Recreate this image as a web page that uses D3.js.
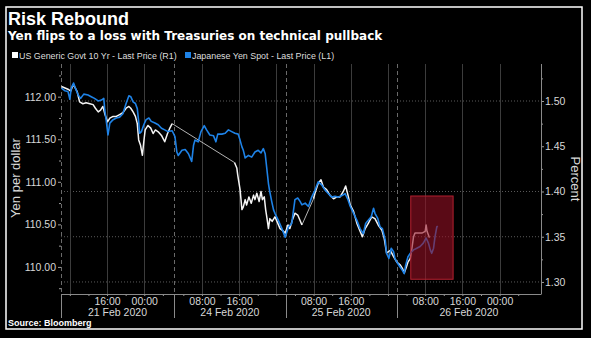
<!DOCTYPE html>
<html><head><meta charset="utf-8">
<script src="https://cdn.jsdelivr.net/npm/d3@7"></script>
<style>html,body{margin:0;padding:0;background:#000;}svg{display:block;}</style>
</head><body>
<svg id="chart" width="591" height="338"></svg>
<script>
// ---- data (time index in trading hours from chart start) ----
const jpyTime = [0.1,0.8,1.5,1.9,2.2,2.7,3.1,3.7,4.2,4.9,
5.8,6.5,7.2,8.0,8.7,9.2,9.4,9.7,10.1,10.5,
11.2,11.9,12.6,13.3,14.0,14.6,15.0,15.5,16.0,16.4,
16.7,16.9,17.3,17.8,18.3,18.9,19.4,20.2,20.9,21.6,
22.3,23.0,23.9,24.5,24.9,25.2,26.0,26.7,27.4,28.1,
28.5,28.8,29.5,30.1,30.8,31.3,32.0,32.8,33.3,33.7,
34.6,35.3,36.0,36.7,37.4,38.1,38.5,38.9,39.2,39.6,
40.3,41.0,41.7,42.4,43.0,43.5,43.9,44.2,44.6,44.9,
45.3,45.7,46.0,46.7,47.5,48.2,48.9,49.6,50.3,50.9,
51.4,51.8,52.5,53.2,53.9,54.6,55.3,56.1,56.8,57.5,
58.2,58.9,59.6,60.4,61.1,61.7,62.2,62.9,63.6,64.3,
65.0,65.5,66.1,66.7,67.2,67.5,68.1,68.6,69.1,69.7,
70.0,70.5,71.0,71.5,71.8,72.4,72.9,73.4,73.8,74.1,
74.6,75.1,75.8,76.5,77.2,77.9,78.5,79.0,79.4,79.7,
80.1,80.4,80.8,81.0];
const jpyValue = [112.10,112.07,112.06,111.97,112.10,112.16,112.10,112.02,111.98,112.03,
112.02,112.00,111.98,111.95,111.96,111.98,111.85,111.73,111.55,111.69,
111.73,111.75,111.76,111.80,111.92,112.01,112.00,111.94,111.92,111.86,
111.71,111.57,111.59,111.67,111.73,111.75,111.71,111.69,111.67,111.63,
111.61,111.59,111.60,111.53,111.35,111.31,111.37,111.38,111.33,111.24,
111.43,111.49,111.47,111.59,111.66,111.61,111.55,111.54,111.47,111.56,
111.56,111.57,111.61,111.59,111.57,111.56,111.49,111.41,111.37,111.28,
111.31,111.29,111.35,111.37,111.34,111.39,111.33,111.18,110.98,110.88,
110.77,110.67,110.63,110.55,110.45,110.35,110.47,110.51,110.79,110.81,
110.77,110.73,110.75,110.71,110.82,110.90,111.00,110.96,110.90,110.86,
110.82,110.83,110.82,110.84,110.86,110.79,110.71,110.63,110.55,110.45,
110.39,110.51,110.55,110.59,110.69,110.63,110.57,110.47,110.45,110.32,
110.16,110.10,110.22,110.18,110.10,110.04,110.00,109.96,109.92,110.02,
110.12,110.16,110.20,110.22,110.24,110.28,110.34,110.28,110.20,110.16,
110.22,110.35,110.47,110.48];

const usTime = [0.1,1.5,2.1,2.6,2.9,3.5,4.0,4.7,5.4,6.2,
6.9,7.4,8.0,8.5,9.0,9.4,10.0,10.5,11.2,11.9,
12.6,13.3,14.0,14.6,15.0,15.5,16.0,16.4,16.7,17.1,
17.5,17.8,18.1,18.7,19.3,19.8,20.3,20.9,21.6,22.3,
22.9,23.4,23.9,
37.3,37.8,38.0,38.5,38.9,39.2,39.6,
39.9,40.4,40.9,41.4,41.7,42.1,42.6,43.0,43.3,43.7,
44.0,44.3,44.6,44.9,45.4,46.0,46.6,47.1,47.6,48.2,
48.8,49.2,49.7,50.3,50.9,51.4,51.8,
54.3,54.6,55.3,
55.9,56.4,57.1,57.8,58.6,59.3,60.0,60.7,61.2,61.7,
62.2,62.9,63.6,64.3,64.8,65.4,66.1,66.8,67.5,68.2,
69.0,69.5,70.0,70.8,71.5,72.2,72.9,73.4,73.8,74.3,
74.6,75.1,75.5,75.8,76.1,76.8,77.6,78.3,78.5,78.7,
79.0,79.2];
const usValue = [1.516,1.513,1.511,1.518,1.516,1.510,1.499,1.497,1.498,1.497,
1.496,1.492,1.488,1.490,1.494,1.486,1.477,1.481,1.483,1.483,
1.485,1.487,1.492,1.494,1.492,1.488,1.483,1.475,1.457,1.451,
1.440,1.455,1.468,1.473,1.470,1.464,1.468,1.466,1.462,1.455,
1.464,1.470,1.475,
1.432,1.426,1.418,1.402,1.380,1.383,1.391,
1.385,1.394,1.387,1.396,1.391,1.398,1.389,1.400,1.391,1.394,
1.380,1.370,1.359,1.370,1.367,1.372,1.365,1.359,1.357,1.354,
1.363,1.359,1.368,1.376,1.374,1.368,1.363,
1.392,1.398,1.409,
1.413,1.405,1.402,1.396,1.392,1.394,1.394,1.400,1.406,1.396,
1.385,1.378,1.365,1.356,1.350,1.359,1.365,1.372,1.370,1.363,
1.357,1.348,1.332,1.335,1.328,1.322,1.319,1.315,1.310,1.317,
1.322,1.326,1.339,1.350,1.354,1.354,1.354,1.356,1.363,1.356,
1.352,1.349];

const timeTicks = [9.9,17.9,30.3,38.3,46.3,54.3,62.3,70.3,78.3,86.3,94.3];
const timeLabels = ["16:00","00:00","08:00","16:00","","08:00","16:00","","08:00","16:00","00:00"];
const minorTimeTicks = [1.9,5.9,13.9,21.9,26.3,34.3,42.3,50.3,58.3,66.3,74.3,82.3,90.3,98.3];
const extraGrid = [1.9];
const dayBreaks = [0,24.3,48.3,72.2];
const dayLabels = ["21 Feb 2020","24 Feb 2020","25 Feb 2020","26 Feb 2020"];
const leftTicks = [110.0,110.5,111.0,111.5,112.0];
const rightTicks = [1.30,1.35,1.40,1.45,1.50];
const rightGrid = [1.30,1.35,1.40,1.50];
const boxTime = [75.2,84.3];
const boxValue = [1.303,1.395];

const title = "Risk Rebound";
const subtitle = "Yen flips to a loss with Treasuries on technical pullback";
const seriesNames = ["US Generic Govt 10 Yr - Last Price (R1)","Japanese Yen Spot - Last Price (L1)"];
const leftTitle = "Yen per dollar";
const rightTitle = "Percent";
const source = "Source: Bloomberg";

// ---- layout ----
const L = 61, R = 541, T = 64, B = 294;
const FONT = "'Liberation Sans', Arial, sans-serif";
const WIDE = "'DejaVu Sans', Verdana, sans-serif";
const svg = d3.select("#chart");
svg.append("rect").attr("width",591).attr("height",338).attr("fill","#000");

const x = d3.scaleLinear().domain([0,103.2]).range([L,R]);
const yL = d3.scaleLinear().domain([109.682,112.384]).range([B,T]);
const yR = d3.scaleLinear().domain([1.2867,1.5409]).range([B,T]);

// border
svg.append("rect").attr("x",6).attr("y",7).attr("width",576).attr("height",322)
  .attr("fill","none").attr("stroke","#fff").attr("stroke-width",1.5);

// titles
svg.append("text").attr("x",8).attr("y",25).text(title)
  .attr("fill","#fff").attr("font-family",FONT).attr("font-weight","bold").attr("font-size",18);
svg.append("text").attr("x",8).attr("y",40).text(subtitle)
  .attr("fill","#fff").attr("font-family",WIDE).attr("font-weight","bold").attr("font-size",12);

// legend
const legColors = ["#ffffff","#1e82e6"];
const legX = [12,185];
seriesNames.forEach((n,i)=>{
  svg.append("rect").attr("x",legX[i]).attr("y",52).attr("width",6).attr("height",6).attr("fill",legColors[i]);
  svg.append("text").attr("x",legX[i]+7).attr("y",58.5).text(n)
    .attr("fill","#ddd").attr("font-family",FONT).attr("font-size",8.9);
});

// grid
const g = svg.append("g");
g.selectAll(".hg").data(rightGrid).join("line")
  .attr("x1",L).attr("x2",R).attr("y1",d=>yR(d)).attr("y2",d=>yR(d))
  .attr("stroke","#5a5a5a").attr("stroke-dasharray","1,2");
g.selectAll(".vg").data(timeTicks.concat(extraGrid)).join("line")
  .attr("x1",d=>Math.round(x(d))+0.5).attr("x2",d=>Math.round(x(d))+0.5).attr("y1",T).attr("y2",B)
  .attr("stroke","#3c3c3c");
g.selectAll(".db").data(dayBreaks).join("line")
  .attr("x1",d=>Math.round(x(d))+0.5).attr("x2",d=>Math.round(x(d))+0.5).attr("y1",T).attr("y2",B)
  .attr("stroke","#6a6a6a").attr("stroke-dasharray","4,3");
g.selectAll(".dbl").data(dayBreaks).join("line")
  .attr("x1",d=>Math.round(x(d))+0.5).attr("x2",d=>Math.round(x(d))+0.5).attr("y1",B).attr("y2",318)
  .attr("stroke","#8a8a8a");

// series
const jpy = jpyTime.map((t,i)=>[t,jpyValue[i]]);
const us = usTime.map((t,i)=>[t,usValue[i]]);
const GAP = 2;
const usSegs = [[]];
const gaps = [];
us.forEach((p,i)=>{
  if(i>0 && p[0]-us[i-1][0] > GAP){ gaps.push([us[i-1],p]); usSegs.push([]); }
  usSegs[usSegs.length-1].push(p);
});
const lineR = d3.line().x(d=>x(d[0])).y(d=>yR(d[1]));
const lineL = d3.line().x(d=>x(d[0])).y(d=>yL(d[1]));
svg.selectAll(".gap").data(gaps).join("path").attr("d",lineR)
  .attr("fill","none").attr("stroke","#b4b4b4").attr("stroke-width",1);
svg.selectAll(".us").data(usSegs).join("path").attr("d",lineR)
  .attr("fill","none").attr("stroke","#f4f4f4").attr("stroke-width",1.5).attr("stroke-linejoin","round");
svg.append("path").datum(jpy).attr("d",lineL)
  .attr("fill","none").attr("stroke","#1e82e6").attr("stroke-width",1.6).attr("stroke-linejoin","round");

// highlight box
svg.append("rect").attr("x",x(boxTime[0])).attr("y",yR(boxValue[1]))
  .attr("width",x(boxTime[1])-x(boxTime[0])).attr("height",yR(boxValue[0])-yR(boxValue[1]))
  .attr("fill","rgba(150,16,36,0.6)").attr("stroke","#b3202f").attr("stroke-width",1);

// axes
const axL = svg.append("g").attr("transform",`translate(${L},0)`)
  .call(d3.axisLeft(yL).tickValues(leftTicks).tickFormat(d3.format(".2f")).tickSize(3).tickPadding(2));
const axLm = svg.append("g").attr("transform",`translate(${L},0)`)
  .call(d3.axisLeft(yL).tickValues([109.75,110.25,110.75,111.25,111.75,112.25]).tickFormat("").tickSize(2));
const axR = svg.append("g").attr("transform",`translate(${R},0)`)
  .call(d3.axisRight(yR).tickValues(rightTicks).tickFormat(d3.format(".2f")).tickSize(3).tickPadding(1));
const axRm = svg.append("g").attr("transform",`translate(${R},0)`)
  .call(d3.axisRight(yR).tickValues([1.325,1.375,1.425,1.475,1.525]).tickFormat("").tickSize(2));
const axBm = svg.append("g").attr("transform",`translate(0,${B})`)
  .call(d3.axisBottom(x).tickValues(minorTimeTicks.concat(timeTicks)).tickFormat("").tickSize(2));
[axL,axLm,axR,axRm,axBm].forEach(a=>{
  a.select(".domain").remove();
  a.selectAll("line").attr("stroke","#9a9a9a");
  a.selectAll("text").attr("fill","#d8d8d8").attr("font-family",FONT).attr("font-size",10.5);
});
svg.append("line").attr("x1",R+0.5).attr("x2",R+0.5).attr("y1",T).attr("y2",B).attr("stroke","#8a8a8a");
svg.append("line").attr("x1",L).attr("x2",R+0.5).attr("y1",B+0.5).attr("y2",B+0.5).attr("stroke","#8a8a8a");

// x labels
const axB = svg.append("g").attr("transform",`translate(0,${B})`)
  .call(d3.axisBottom(x).tickValues(timeTicks).tickFormat((d,i)=>timeLabels[i]).tickSize(0).tickPadding(4));
axB.select(".domain").remove();
axB.selectAll("text").attr("fill","#d8d8d8").attr("font-family",FONT).attr("font-size",10.5);

const dayEnds = dayBreaks.slice(1).concat([x.domain()[1]]);
svg.selectAll(".dl").data(dayLabels).join("text")
  .attr("x",(d,i)=>x((dayBreaks[i]+dayEnds[i])/2)).attr("y",316).attr("text-anchor","middle")
  .text(d=>d).attr("fill","#d8d8d8").attr("font-family",FONT).attr("font-size",10.5);

// axis titles
svg.append("text").attr("transform",`translate(20,178) rotate(-90)`).attr("text-anchor","middle")
  .text(leftTitle).attr("fill","#d8d8d8").attr("font-family",FONT).attr("font-size",13);
svg.append("text").attr("transform",`translate(571,179) rotate(90)`).attr("text-anchor","middle")
  .text(rightTitle).attr("fill","#d8d8d8").attr("font-family",FONT).attr("font-size",13);

svg.append("text").attr("x",8).attr("y",326).text(source)
  .attr("fill","#fff").attr("font-family",FONT).attr("font-weight","bold").attr("font-size",9);
</script>
</body></html>
